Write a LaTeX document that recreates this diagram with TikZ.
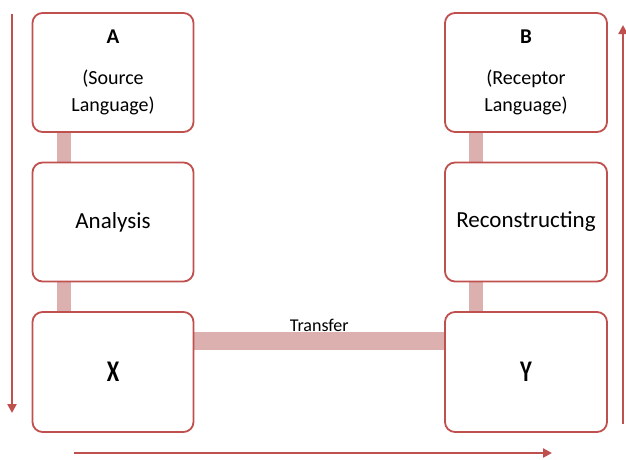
\documentclass[tikz,border=0pt]{standalone}
\usepackage{fontspec}
\setmainfont{Carlito}
\usetikzlibrary{arrows.meta}
\definecolor{boxred}{HTML}{C0504D}
\definecolor{barpink}{HTML}{DDB0B0}
\pgfdeclarelayer{background}
\pgfsetlayers{background,main}
\begin{document}
\begin{tikzpicture}[x=1pt,y=-1pt,
  box/.style={draw=boxred,line width=1.8pt,rounded corners=10pt,fill=white,
    minimum width=161pt,minimum height=119pt,inner sep=0pt,align=center},
  smalltxt/.style={font=\fontsize{20}{27}\selectfont},
  bigtxt/.style={font=\fontsize{23}{28}\selectfont},
  vbar/.style={draw=barpink,line width=14pt},
  hbar/.style={draw=barpink,line width=18pt},
  flow/.style={draw=boxred,line width=2.8pt,-{Triangle[length=9pt,width=9pt]}}]
\useasboundingbox (0,0) rectangle (626,459);
\node[box,smalltxt] (A) at (113,72.5) {{\fontsize{21}{27}\selectfont\textbf{A}}\\[14pt](Source\\Language)};
\node[box,bigtxt] (An) at (113,222) {Analysis};
\node[box,minimum height=120pt] (X) at (113,372)
  {\fontsize{30}{32}\selectfont\bfseries\scalebox{0.75}[1]{X}};
\node[box,smalltxt,minimum width=162pt] (B) at (526,72.5) {{\fontsize{21}{27}\selectfont\textbf{B}}\\[14pt](Receptor\\Language)};
\node[box,bigtxt,minimum width=162pt] (R) at (526,222) {Reconstructing};
\node[box,minimum width=162pt,minimum height=120pt] (Y) at (526,372)
  {\fontsize{30}{32}\selectfont\bfseries\scalebox{0.75}[1]{Y}};
\begin{pgfonlayer}{background}
\draw[vbar] ([xshift=32pt]A.south west) -- ([xshift=32pt]An.north west);
\draw[vbar] ([xshift=32pt]An.south west) -- ([xshift=32pt]X.north west);
\draw[vbar] ([xshift=32pt]B.south west) -- ([xshift=32pt]R.north west);
\draw[vbar] ([xshift=32pt]R.south west) -- ([xshift=32pt]Y.north west);
\draw[hbar] ([yshift=31pt]X.east) -- ([yshift=31pt]Y.west);
\end{pgfonlayer}
\path ([yshift=40pt]X.east) -- node[above=0pt,font=\fontsize{18}{20}\selectfont,inner sep=0pt] (T) {Transfer} ([yshift=40pt]Y.west);
% process arrows
\coordinate (l1) at (12,14);
\coordinate (l2) at (12,413);
\coordinate (r1) at (623,424);
\coordinate (r2) at (623,25);
\coordinate (b1) at (74,453);
\coordinate (b2) at (552,453);
\draw[flow] (l1) -- (l2);
\draw[flow] (r1) -- (r2);
\draw[flow] (b1) -- (b2);
\end{tikzpicture}
\end{document}
